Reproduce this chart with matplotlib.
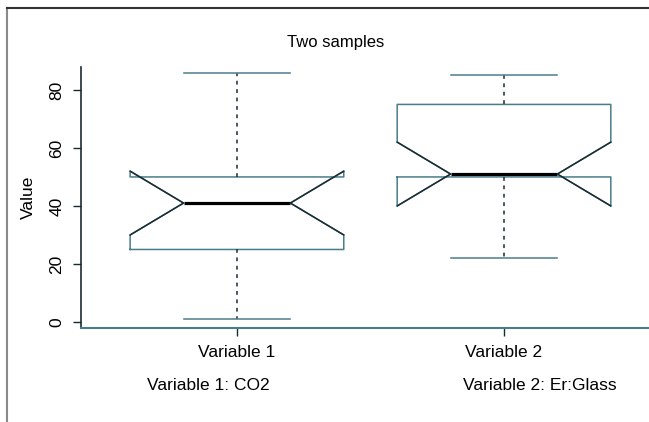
import matplotlib.pyplot as plt
from matplotlib.lines import Line2D

plt.rcParams['font.family'] = ['Liberation Sans', 'DejaVu Sans']

# Résumés des deux échantillons
labels = ['Variable 1', 'Variable 2']
positions = [1, 2]
whislo = [1, 22]
q1 = [25, 50]
med = [41, 51]
q3 = [50, 75]
whishi = [86, 85]
cilo = [30, 40]
cihi = [52, 62]

teal = '#4a7d8c'
dark = '#1c2b31'
largeur = 0.8

stats = []
for i in range(len(labels)):
    stats.append(dict(label=labels[i], whislo=whislo[i], q1=q1[i], med=med[i],
                      q3=q3[i], whishi=whishi[i], cilo=cilo[i], cihi=cihi[i], fliers=[]))

fig = plt.figure(figsize=(6.49, 4.22), dpi=100)
ax = fig.add_axes([81 / 649, 1 - 328 / 422, (649 - 81) / 649, (328 - 67) / 422])

ax.bxp(stats, positions=positions, widths=largeur, shownotches=True,
       boxprops=dict(color=teal, linewidth=1.1),
       medianprops=dict(color='black', linewidth=2.3),
       whiskerprops=dict(color=dark, linewidth=1.1, linestyle=(0, (2.5, 3))),
       capprops=dict(color=teal, linewidth=1.1))

# Diagonales des encoches, en plus foncé
for i, p in enumerate(positions):
    for s in (-1, 1):
        ax.plot([p + s * largeur / 2, p + s * largeur / 4, p + s * largeur / 2],
                [cilo[i], med[i], cihi[i]], color=dark, linewidth=1.1, zorder=3)

ax.set_xlim(0.416, 2.543)
ax.set_ylim(-2.07, 87.9)
ax.set_yticks([0, 20, 40, 60, 80])
ax.set_xticks(positions)
ax.set_xticklabels(labels)
for lab in ax.get_yticklabels():
    lab.set_rotation(90)
    lab.set_va('center')
ax.tick_params(axis='both', labelsize=12.5, length=6, width=1, color=dark, pad=6)
ax.spines['top'].set_visible(False)
ax.spines['right'].set_visible(False)
ax.spines['left'].set_color(dark)
ax.spines['bottom'].set_color(teal)
ax.spines['left'].set_linewidth(1.2)
ax.spines['bottom'].set_linewidth(1.5)
ax.set_ylabel('Value', fontsize=12.5, labelpad=10)

fig.text(336 / 649, 1 - 42 / 422, 'Two samples', ha='center', va='center', fontsize=12)
fig.text(208 / 649, 1 - 385 / 422, 'Variable 1: CO2', ha='center', va='center', fontsize=12.5)
fig.text(540 / 649, 1 - 385 / 422, 'Variable 2: Er:Glass', ha='center', va='center', fontsize=12.5)

# Cadre de la capture
fig.add_artist(Line2D([7 / 649, 7 / 649], [0, 1 - 8 / 422], color='#8a8a8a', linewidth=1.5))
fig.add_artist(Line2D([7 / 649, 1], [1 - 8 / 422, 1 - 8 / 422], color='#333333', linewidth=1.5))

fig.savefig('out.png', dpi=100)
